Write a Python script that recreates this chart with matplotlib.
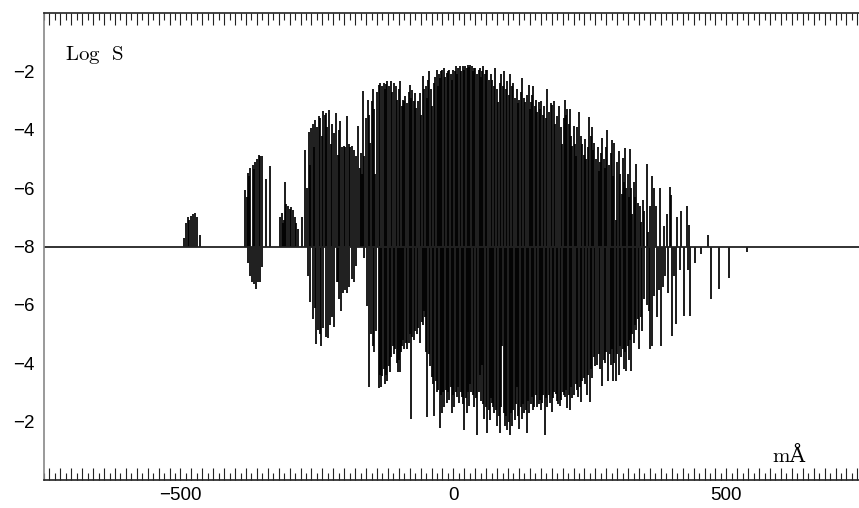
import matplotlib
matplotlib.use("Agg")
import matplotlib.pyplot as plt
from matplotlib.ticker import FixedLocator, FuncFormatter

plt.rcParams["mathtext.fontset"] = "cm"

# ---------------- data (wavelength offset in mA, log line strength) ----------
baseline_logS = -8.0

up_x = [
    -493, -490, -487, -484, -480, -477, -473, -470, -465,
    -382, -379, -377, -374, -372, -368, -365, -363, -360, -357, -354, -350, -344, -336,
    -317, -314, -312, -310, -308, -306, -303, -300, -297, -294, -291, -288, -284, -278,
    -271, -268, -265, -262, -260, -258, -255, -253, -250, -247,
    -244, -241, -239, -236, -234, -231, -228, -225, -222, -219,
    -216, -212, -210, -207, -204, -201, -198, -195, -192, -189,
    -186, -183, -179, -175, -172, -170, -167, -165, -163, -160,
    -157, -154, -152, -150, -148, -146, -143, -140, -137, -134,
    -131, -128, -125, -123, -121, -118, -115, -112, -109, -106,
    -103, -100, -97, -95, -92, -90, -88, -85, -82, -79,
    -77, -75, -73, -71, -68, -65, -62, -59, -56, -53,
    -51, -48, -46, -44, -41, -39, -36, -33, -30, -28,
    -26, -24, -22, -20, -17, -15, -12, -10, -8, -5,
    -3, 0, 2, 5, 7, 9, 12, 14, 17, 19,
    22, 24, 26, 28, 31, 34, 36, 38, 40, 43,
    46, 49, 51, 53, 55, 58, 60, 62, 65, 68,
    71, 74, 77, 80, 82, 85, 87, 90, 93, 96,
    98, 101, 104, 107, 110, 113, 116, 118, 120, 123,
    126, 129, 132, 135, 138, 140, 142, 144, 146, 149,
    152, 154, 156, 159, 161, 164, 166, 169, 172, 175,
    178, 181, 184, 187, 190, 194, 197, 199, 202, 205,
    207, 209, 212, 214, 216, 218, 220, 223, 225, 227,
    230, 233, 236, 239, 241, 243, 246, 249, 252, 254,
    256, 258, 261, 264, 266, 269, 271, 273, 276, 278,
    280, 282, 285, 288, 291, 293, 295, 298, 300, 303,
    306, 308, 311, 313, 315, 317, 319, 321, 323, 325,
    327, 330, 333, 335, 338, 341, 344, 347, 350, 355,
    357, 360, 364, 367, 372, 379, 386, 391, 397, 399,
    410, 417, 428, 432, 466,
]
up_logS = [
    -7.7, -7.2, -7.0, -7.1, -6.95, -6.9, -6.85, -7.0, -7.6,
    -6.05, -6.3, -5.47, -5.6, -5.3, -5.2, -5.35, -5.12, -5.0, -4.85, -4.9, -4.9, -5.7, -5.25,
    -7.0, -6.85, -7.2, -7.1, -5.8, -6.55, -6.6, -6.7, -6.65, -6.75, -7.0, -7.2, -7.4, -7.0,
    -4.68, -6.0, -4.09, -5.2, -3.95, -3.82, -4.6, -3.65, -3.9, -3.54,
    -3.6, -4.2, -3.37, -3.5, -3.42, -3.9, -3.31, -4.5, -3.8, -4.1,
    -3.42, -4.85, -4.0, -3.71, -4.6, -4.57, -4.6, -3.54, -4.5, -4.6,
    -4.57, -4.7, -4.9, -3.88, -5.3, -4.8, -5.5, -2.68, -4.9, -3.6,
    -2.97, -3.5, -4.45, -3.0, -2.62, -3.3, -5.5, -2.7, -2.45, -2.39,
    -2.5, -2.39, -2.6, -2.42, -2.34, -2.5, -2.34, -2.7, -2.4, -2.5,
    -2.97, -2.6, -2.34, -3.2, -2.97, -3.0, -2.85, -3.1, -2.7, -2.45,
    -2.9, -2.63, -3.0, -2.74, -3.24, -3.0, -2.74, -3.5, -2.17, -2.6,
    -2.5, -2.9, -2.3, -2.0, -2.6, -3.17, -2.4, -2.2, -1.94, -2.5,
    -2.1, -2.22, -2.0, -1.94, -1.88, -2.2, -2.05, -2.0, -1.94, -2.1,
    -2.3, -1.94, -2.0, -1.83, -2.1, -1.88, -1.83, -2.0, -1.83, -1.95,
    -1.8, -1.9, -1.77, -1.85, -1.77, -1.83, -2.0, -1.9, -1.88, -2.1,
    -1.94, -1.9, -2.2, -2.0, -1.8, -2.1, -1.95, -1.94, -2.3, -2.1,
    -2.28, -2.5, -1.88, -2.6, -3.06, -2.4, -2.1, -2.5, -1.99, -2.6,
    -2.34, -2.8, -2.1, -2.5, -2.4, -2.9, -2.62, -3.1, -2.97, -2.7,
    -2.22, -2.9, -3.06, -2.8, -2.45, -3.3, -3.06, -2.8, -2.5, -3.2,
    -2.97, -3.4, -3.06, -3.3, -3.0, -3.5, -3.17, -3.6, -2.62, -3.4,
    -3.1, -3.14, -3.0, -3.8, -3.54, -3.2, -3.9, -4.5, -3.6, -2.97,
    -3.5, -3.3, -3.8, -3.28, -4.2, -4.55, -3.88, -4.5, -4.9, -3.9,
    -3.4, -4.2, -4.5, -4.85, -4.3, -5.0, -4.6, -3.55, -4.2, -3.89,
    -4.7, -4.45, -5.0, -4.6, -5.4, -5.12, -4.8, -4.27, -5.0, -5.3,
    -4.6, -4.0, -5.2, -4.8, -4.34, -5.6, -4.45, -7.08, -5.1, -4.74,
    -5.5, -6.2, -4.97, -5.8, -4.63, -6.0, -5.5, -6.3, -4.67, -6.0,
    -6.9, -5.8, -6.3, -5.16, -6.5, -6.6, -7.15, -6.4, -6.8, -5.19,
    -7.5, -6.6, -5.6, -5.98, -6.6, -5.98, -7.3, -6.9, -5.95, -6.25,
    -7.0, -6.79, -6.62, -7.25, -7.59,
]

lo_x = [
    -377, -373, -369, -365, -361, -358, -355, -350, -267, -262,
    -257, -254, -251, -248, -245, -242, -238, -234, -230, -226,
    -222, -219, -214, -212, -209, -206, -202, -198, -195, -191,
    -186, -182, -178, -164, -159, -154, -151, -148, -146, -141,
    -137, -135, -133, -130, -128, -125, -123, -121, -118, -116,
    -114, -111, -109, -107, -104, -102, -100, -98, -96, -94,
    -92, -90, -87, -85, -82, -80, -78, -75, -73, -70,
    -67, -64, -61, -58, -56, -54, -52, -50, -48, -45,
    -42, -39, -37, -35, -32, -30, -28, -25, -23, -21,
    -19, -17, -14, -12, -10, -8, -5, -3, -1, 1,
    4, 6, 9, 11, 13, 15, 18, 20, 23, 25,
    27, 29, 31, 33, 36, 38, 41, 43, 46, 48,
    50, 52, 54, 56, 59, 62, 65, 67, 69, 71,
    73, 75, 78, 80, 83, 85, 87, 89, 92, 94,
    96, 98, 101, 103, 105, 107, 110, 112, 114, 116,
    119, 121, 123, 125, 128, 130, 133, 135, 137, 139,
    142, 144, 146, 148, 151, 153, 156, 158, 160, 162,
    165, 168, 170, 172, 175, 177, 180, 183, 185, 188,
    190, 192, 195, 198, 200, 202, 204, 206, 208, 211,
    213, 216, 218, 221, 224, 227, 229, 231, 233, 236,
    239, 241, 244, 247, 250, 252, 254, 257, 260, 263,
    266, 269, 272, 275, 277, 280, 283, 286, 288, 290,
    292, 295, 297, 300, 303, 305, 307, 310, 312, 315,
    317, 319, 321, 324, 326, 328, 330, 333, 335, 338,
    340, 343, 346, 350, 355, 358, 361, 364, 368, 373,
    376, 380, 384, 388, 393, 400, 404, 408, 415, 422,
    429, 434, 442, 453, 472, 486, 505, 538,
]
lo_logS = [
    -7.45, -6.98, -6.77, -6.7, -6.53, -6.8, -6.8, -7.3, -6.99, -6.09,
    -5.51, -5.9, -4.66, -5.13, -5.0, -4.6, -5.2, -4.9, -4.85, -5.3,
    -5.6, -5.23, -6.8, -6.8, -6.2, -5.8, -6.4, -6.5, -6.4, -6.6,
    -6.9, -6.8, -7.33, -7.6, -5.96, -3.18, -5.0, -4.6, -4.37, -5.1,
    -3.14, -3.6, -3.2, -3.55, -3.8, -3.29, -3.6, -3.4, -3.9, -3.7,
    -4.2, -4.6, -4.3, -4.5, -4.0, -3.69, -4.1, -3.7, -4.4, -4.6,
    -4.8, -4.5, -4.7, -4.5, -4.7, -5.0, -2.1, -4.9, -4.8, -5.1,
    -5.0, -5.2, -4.7, -5.4, -5.3, -5.8, -5.6, -4.4, -2.15, -4.3,
    -3.9, -3.52, -3.3, -2.2, -3.4, -3.0, -3.1, -1.78, -2.9, -2.3,
    -3.0, -2.5, -3.1, -2.65, -3.0, -2.75, -3.2, -2.3, -2.9, -2.5,
    -3.0, -2.85, -3.2, -2.65, -3.0, -2.85, -2.6, -1.7, -2.8, -2.3,
    -3.0, -2.55, -3.3, -3.0, -2.9, -2.5, -2.8, -1.55, -3.0, -3.6,
    -2.7, -3.95, -2.6, -2.1, -2.5, -1.6, -2.4, -2.05, -2.8, -2.65,
    -2.5, -2.3, -2.4, -1.85, -2.2, -1.6, -2.5, -4.6, -2.3, -1.85,
    -2.2, -1.7, -2.0, -1.55, -2.3, -1.85, -2.4, -2.05, -2.6, -3.2,
    -2.2, -1.75, -2.5, -2.1, -2.6, -2.3, -2.4, -1.6, -2.7, -2.3,
    -2.6, -2.85, -2.4, -2.5, -2.9, -2.5, -2.6, -2.75, -2.4, -2.65,
    -2.9, -1.55, -2.8, -2.5, -2.9, -2.65, -2.32, -2.8, -3.0, -2.95,
    -2.7, -2.6, -2.55, -2.75, -3.0, -2.9, -2.85, -3.1, -2.45, -2.9,
    -2.4, -3.2, -2.8, -2.9, -3.3, -3.1, -2.85, -3.2, -2.67, -3.4,
    -3.5, -3.3, -2.9, -3.6, -2.67, -3.8, -3.5, -4.2, -3.9, -3.95,
    -4.3, -3.8, -3.23, -4.1, -4.0, -4.4, -3.4, -4.3, -3.95, -4.5,
    -3.4, -4.0, -3.4, -4.3, -3.6, -4.6, -4.2, -4.5, -3.8, -4.4,
    -3.74, -4.6, -4.1, -4.8, -3.74, -5.0, -4.7, -5.3, -5.15, -5.5,
    -4.48, -5.6, -5.1, -6.2, -6.0, -5.8, -4.48, -4.6, -6.3, -5.6,
    -6.5, -4.6, -6.6, -7.0, -6.4, -4.94, -7.0, -5.34, -7.2, -5.62,
    -7.2, -5.62, -7.44, -7.73, -6.19, -6.56, -6.93, -7.8,
]

ytick_logS = [-2, -4, -6, -8, -6, -4, -2]
ytick_side = [1, 1, 1, 0, -1, -1, -1]
xtick_labels = {-500: "\u2212500", 0: "0", 500: "500"}

assert len(up_x) == len(up_logS), (len(up_x), len(up_logS))
assert len(lo_x) == len(lo_logS), (len(lo_x), len(lo_logS))

# ---------------- figure ------------------------------------------------------
W, H = 859, 508
fig = plt.figure(figsize=(W / 100, H / 100), dpi=100)
ax = fig.add_axes([44 / W, (H - 480) / H, 1 - 44 / W, (480 - 13) / H])

up_h = [v - baseline_logS for v in up_logS]
lo_h = [-(v - baseline_logS) for v in lo_logS]
ax.vlines(up_x, 0, up_h, colors="black", linewidth=1.25)
ax.vlines(lo_x, 0, lo_h, colors="black", linewidth=1.25)
ax.axhline(0, color="#222222", linewidth=1.3)

ax.set_xlim(-750, 743)
ax.set_ylim(-8, 8)

# y ticks
ypos = [s * (v - baseline_logS) if s != 0 else 0 for v, s in zip(ytick_logS, ytick_side)]
ax.set_yticks(ypos)
ax.set_yticklabels(["\u2212%d" % abs(v) for v in ytick_logS])
ax.tick_params(axis="y", length=0, pad=7, labelsize=13.5, colors="black")
for lab in ax.get_yticklabels():
    lab.set_fontfamily("Liberation Sans")

# x ticks
ax.xaxis.set_major_locator(FixedLocator(list(range(-740, 741, 20))))
ax.xaxis.set_minor_locator(FixedLocator(list(range(-750, 751, 20))))
ax.xaxis.set_major_formatter(FuncFormatter(lambda v, p: xtick_labels.get(int(round(v)), "")))
ax.tick_params(axis="x", which="both", direction="in", top=True, bottom=True,
               color="#222222", width=0.8)
ax.tick_params(axis="x", which="major", length=8.5, pad=5, labelsize=13.5)
ax.tick_params(axis="x", which="minor", length=5)
for lab in ax.get_xticklabels():
    lab.set_fontfamily("Liberation Sans")

for s in ["top", "bottom"]:
    ax.spines[s].set_color("#222222")
    ax.spines[s].set_linewidth(1.2)
ax.spines["left"].set_color("#888888")
ax.spines["left"].set_linewidth(1.2)
ax.spines["right"].set_visible(False)

ax.text(-712, 6.55, r"$\mathrm{Log\ \ S}$", fontsize=15, ha="left", va="center")
ax.text(583, -7.4, r"$\mathrm{m}$Å", fontsize=15, ha="left", va="baseline",
        family="DejaVu Serif")

fig.savefig("out.png", dpi=100)
